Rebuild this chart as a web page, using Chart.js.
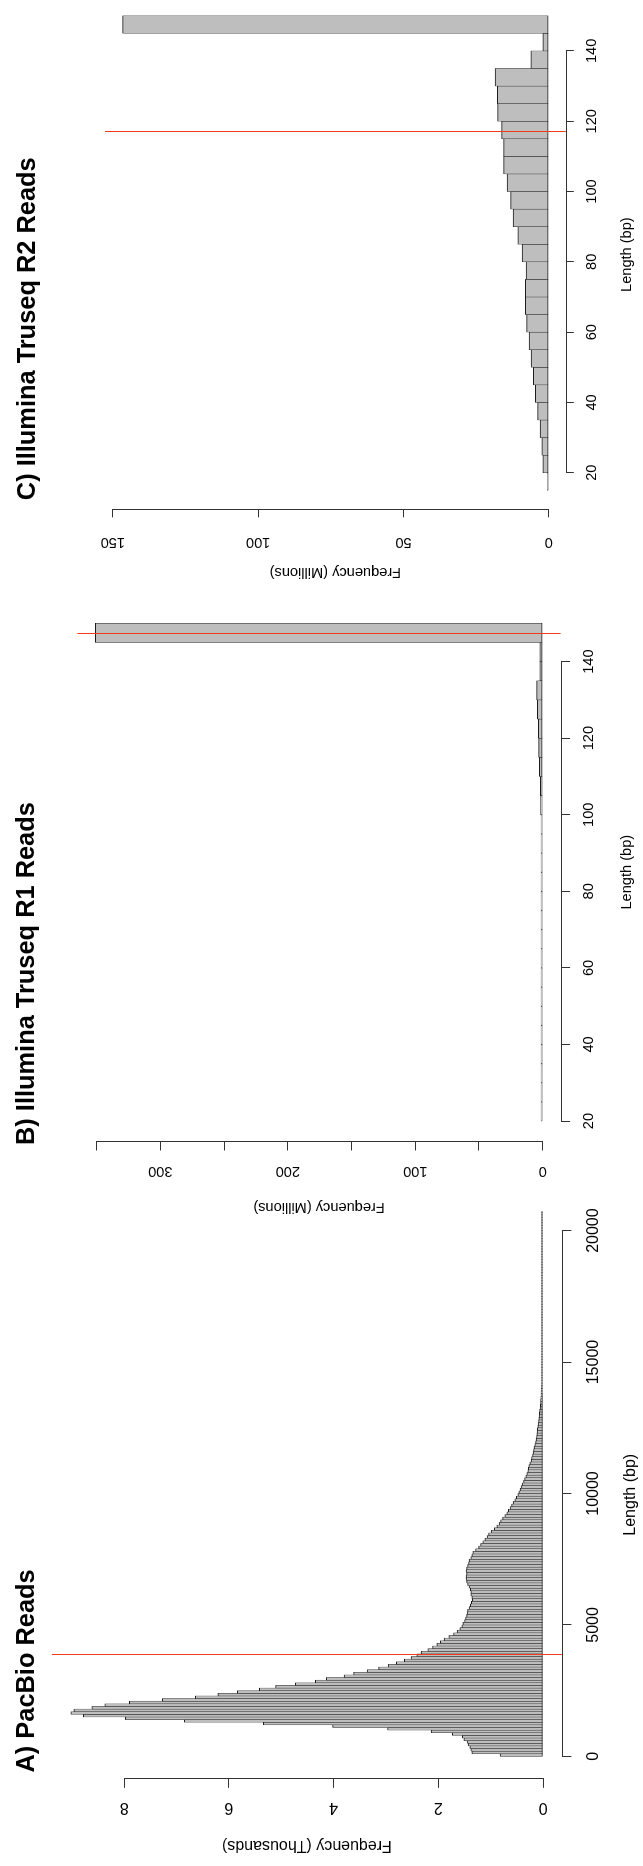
<!DOCTYPE html>
<html>
<head>
<meta charset="utf-8">
<script src="https://cdn.jsdelivr.net/npm/chart.js@4.4.1/dist/chart.umd.min.js"></script>
<style>
  html, body { margin: 0; padding: 0; background: #fff; }
  body { width: 643px; height: 1866px; overflow: hidden; position: relative; }
  /* the three panels are laid out side by side, then the whole figure is turned a quarter left */
  #fig { position: absolute; left: 0; top: 0; width: 1866px; height: 643px;
         transform-origin: 0 0; transform: translateY(1866px) rotate(-90deg); }
  #fig canvas { position: absolute; top: 0; }
</style>
</head>
<body>
<div id="fig">
  <canvas id="panelA" width="700" height="643" style="left:0px"></canvas>
  <canvas id="panelB" width="660" height="643" style="left:640px"></canvas>
  <canvas id="panelC" width="596" height="643" style="left:1270px"></canvas>
</div>
<script>
// PacBio read lengths, 100 bp bins from 0, frequency in thousands
const pacbioFreqK = [
  0.82, 1.36, 1.38, 1.40, 1.43, 1.45, 1.51, 1.54, 1.73, 2.14,
  2.97, 4.02, 5.34, 6.85, 7.98, 8.78, 9.02, 8.96, 8.62, 8.37,
  7.90, 7.27, 6.64, 6.21, 5.84, 5.42, 5.11, 4.73, 4.35, 4.14,
  3.80, 3.62, 3.36, 3.14, 2.96, 2.80, 2.65, 2.52, 2.41, 2.33,
  2.20, 2.11, 2.03, 1.96, 1.89, 1.80, 1.71, 1.64, 1.59, 1.55,
  1.53, 1.50, 1.48, 1.46, 1.45, 1.44, 1.41, 1.39, 1.37, 1.35,
  1.36, 1.38, 1.38, 1.39, 1.41, 1.44, 1.46, 1.47, 1.47, 1.46,
  1.47, 1.46, 1.44, 1.42, 1.41, 1.38, 1.36, 1.34, 1.29, 1.23,
  1.19, 1.15, 1.11, 1.07, 1.04, 0.99, 0.93, 0.88, 0.84, 0.81,
  0.77, 0.73, 0.69, 0.66, 0.63, 0.60, 0.57, 0.54, 0.51, 0.48,
  0.46, 0.44, 0.42, 0.40, 0.37, 0.35, 0.33, 0.31, 0.29, 0.28,
  0.27, 0.25, 0.23, 0.22, 0.20, 0.19, 0.18, 0.17, 0.155, 0.14,
  0.13, 0.125, 0.12, 0.112, 0.106, 0.10, 0.093, 0.085, 0.078, 0.073,
  0.07, 0.064, 0.058, 0.053, 0.048, 0.045, 0.042, 0.038, 0.036, 0.034,
  0.032, 0.029, 0.026, 0.024, 0.022, 0.021, 0.019, 0.018, 0.017, 0.015,
  0.014, 0.013, 0.012, 0.011, 0.010, 0.010, 0.009, 0.008, 0.008, 0.007,
  0.007, 0.006, 0.006, 0.005, 0.005, 0.005, 0.004, 0.004, 0.004, 0.003,
  0.003, 0.003, 0.003, 0.002, 0.002, 0.002, 0.002, 0.002, 0.002, 0.002,
  0.002, 0.002, 0.001, 0.001, 0.001, 0.001, 0.001, 0.001, 0.001, 0.001,
  0.001, 0.001, 0.001, 0.001, 0.001, 0.001, 0.001, 0.001, 0.001, 0.001,
  0.001, 0.001, 0.001, 0.001, 0.001, 0.001, 0.001, 0.001
];
const pacbioBinWidth = 100;

// Illumina Truseq, 5 bp bins, frequency in millions
const r1BinStart = [20, 25, 30, 35, 40, 45, 50, 55, 60, 65, 70, 75, 80, 85, 90, 95, 100, 105, 110, 115, 120, 125, 130, 135, 140, 145];
const r1FreqM    = [0.1, 0.1, 0.1, 0.1, 0.1, 0.15, 0.15, 0.2, 0.2, 0.25, 0.25, 0.3, 0.3, 0.4, 0.5, 1.0, 1.6, 1.9, 2.6, 3.2, 3.5, 4.2, 4.8, 2.3, 2.3, 351];
const r2BinStart = [15, 20, 25, 30, 35, 40, 45, 50, 55, 60, 65, 70, 75, 80, 85, 90, 95, 100, 105, 110, 115, 120, 125, 130, 135, 140, 145];
const r2FreqM    = [0.34, 2.06, 2.4, 3.0, 3.8, 4.6, 5.3, 6.07, 6.77, 7.62, 8.04, 8.04, 7.76, 9.17, 10.6, 12.3, 13.1, 14.3, 15.5, 15.5, 16.2, 17.6, 17.7, 18.5, 6.2, 2.06, 146.6];
const illuminaBinWidth = 5;

// axis ticks
const pacbioLenTicks   = [0, 5000, 10000, 15000, 20000];
const pacbioFreqTicks  = [0, 2, 4, 6, 8];
const illuminaLenTicks = [20, 40, 60, 80, 100, 120, 140];
const r1FreqTicks      = [0, 50, 100, 150, 200, 250, 300, 350];
const r1FreqLabels     = [0, 100, 200, 300];
const r2FreqTicks      = [0, 50, 100, 150];

// red reference lines (bp)
const pacbioMark = 3860;
const r1Mark = 147.4;
const r2Mark = 117.2;

const FONT = '"Liberation Sans", Arial, Helvetica, sans-serif';
const H = 643;

// R-style axes: line only between first and last tick, red abline, left aligned main title
const rAxes = {
  id: 'rAxes',
  afterDatasetsDraw(chart, args, o) {
    const { ctx, chartArea: a, scales: { x } } = chart;
    const mx = Math.round(x.getPixelForValue(o.mark) - 0.5) + 0.5;
    ctx.save();
    ctx.strokeStyle = '#f23a1c';
    ctx.lineWidth = 1;
    ctx.beginPath();
    ctx.moveTo(mx, a.top);
    ctx.lineTo(mx, a.bottom);
    ctx.stroke();
    ctx.restore();
  },
  afterDraw(chart, args, o) {
    const { ctx, chartArea: a, scales: { x, y } } = chart;
    const al = p => Math.round(p - 0.5) + 0.5;
    ctx.save();
    ctx.strokeStyle = '#333';
    ctx.lineWidth = 1;
    ctx.lineCap = 'square';
    const xt = x.ticks, yt = y.ticks;
    const by = Math.round(a.bottom) + 0.5;
    ctx.beginPath();
    ctx.moveTo(al(x.getPixelForValue(xt[0].value)), by);
    ctx.lineTo(al(x.getPixelForValue(xt[xt.length - 1].value)), by);
    const lx = Math.round(a.left) - 0.5;
    ctx.moveTo(lx, al(y.getPixelForValue(yt[0].value)));
    ctx.lineTo(lx, al(y.getPixelForValue(yt[yt.length - 1].value)));
    ctx.stroke();
    ctx.fillStyle = '#000';
    ctx.font = 'bold 25.4px ' + FONT;
    ctx.textAlign = 'left';
    ctx.textBaseline = 'alphabetic';
    ctx.fillText(o.title, o.tx, o.ty);
    ctx.restore();
  }
};

function panel(id, p) {
  return new Chart(document.getElementById(id), {
    type: 'bar',
    data: {
      datasets: [{
        data: p.mids.map((x, i) => ({ x, y: p.freq[i] })),
        backgroundColor: '#bebebe',
        borderColor: '#1c1c1c',
        borderWidth: { top: 1, bottom: 1, left: 0.5, right: 0.5 },
        borderSkipped: false,
        barPercentage: 1,
        categoryPercentage: 1,
        minBarLength: 1.5,
        clip: 0
      }]
    },
    options: {
      responsive: false,
      animation: false,
      devicePixelRatio: 1,
      events: [],
      layout: { padding: { left: 0, bottom: 0, top: p.area.top, right: p.w - p.area.right } },
      plugins: {
        legend: { display: false },
        tooltip: { enabled: false },
        rAxes: { title: p.title, tx: p.tx, ty: p.ty, mark: p.mark }
      },
      scales: {
        x: {
          type: 'linear', position: 'bottom', min: p.xMin, max: p.xMax, offset: false,
          afterBuildTicks: s => { s.ticks = p.xTicks.map(v => ({ value: v })); },
          afterFit: s => { s.height = H - p.area.bottom; },
          border: { display: false },
          grid: { drawOnChartArea: false, drawTicks: true, tickLength: p.tl, tickColor: '#333', tickWidth: 1, offset: false },
          ticks: { autoSkip: false, minRotation: 0, maxRotation: 0, padding: p.xPad, color: '#000',
                   font: { family: FONT, size: p.fs }, callback: v => String(v) },
          title: { display: true, text: 'Length (bp)', color: '#000', font: { family: FONT, size: p.fs },
                   padding: { top: 0, bottom: p.xTitlePad } }
        },
        y: {
          type: 'linear', position: 'left', min: p.yMin, max: p.yMax,
          afterBuildTicks: s => { s.ticks = p.yTicks.map(v => ({ value: v })); },
          afterFit: s => { s.width = p.area.left; },
          border: { display: false },
          grid: { drawOnChartArea: false, drawTicks: true, tickLength: p.tl, tickColor: '#333', tickWidth: 1 },
          ticks: { autoSkip: false, minRotation: 90, maxRotation: 90, crossAlign: 'center', padding: p.yPad,
                   color: '#000', font: { family: FONT, size: p.fs }, callback: p.yLabel },
          title: { display: true, text: p.yTitle, color: '#000', font: { family: FONT, size: p.fs },
                   padding: { top: p.yTitlePad, bottom: 0 } }
        }
      }
    },
    plugins: [rAxes]
  });
}

panel('panelA', {
  w: 700, area: { left: 87.7, right: 654.7, top: 51.9, bottom: 561.9 },
  mids: pacbioFreqK.map((_, i) => i * pacbioBinWidth + pacbioBinWidth / 2),
  freq: pacbioFreqK,
  xMin: -833, xMax: 20734, yMin: -0.361, yMax: 9.381,
  xTicks: pacbioLenTicks, yTicks: pacbioFreqTicks, yLabel: v => String(v),
  fs: 16, tl: 9.5, xPad: 13, yPad: 15.5, xTitlePad: 2.4, yTitlePad: 11.4,
  yTitle: 'Frequency (Thousands)', title: 'A) PacBio Reads', tx: 93.5, ty: 33.5, mark: pacbioMark
});

panel('panelB', {
  w: 660, area: { left: 85, right: 622.6, top: 77.4, bottom: 560.6 },
  mids: r1BinStart.map(b => b + illuminaBinWidth / 2),
  freq: r1FreqM,
  xMin: 14.8, xMax: 155.2, yMin: -14.04, yMax: 365.04,
  xTicks: illuminaLenTicks, yTicks: r1FreqTicks,
  yLabel: v => (r1FreqLabels.includes(v) ? String(v) : ''),
  fs: 14.6, tl: 9.5, xPad: 10.1, yPad: 8.1, xTitlePad: 6.9, yTitlePad: 10.5,
  yTitle: 'Frequency (Millions)', title: 'B) Illumina Truseq R1 Reads', tx: 81, ty: 34, mark: r1Mark
});

panel('panelC', {
  w: 596, area: { left: 86.7, right: 596, top: 105, bottom: 565.8 },
  mids: r2BinStart.map(b => b + illuminaBinWidth / 2),
  freq: r2FreqM,
  xMin: 9.6, xMax: 154.48, yMin: -5.87, yMax: 152.67,
  xTicks: illuminaLenTicks, yTicks: r2FreqTicks, yLabel: v => String(v),
  fs: 14.6, tl: 8, xPad: 9.1, yPad: 12.2, xTitlePad: 6.8, yTitlePad: 15.5,
  yTitle: 'Frequency (Millions)', title: 'C) Illumina Truseq R2 Reads', tx: 95.8, ty: 34.5, mark: r2Mark
});
</script>
</body>
</html>
